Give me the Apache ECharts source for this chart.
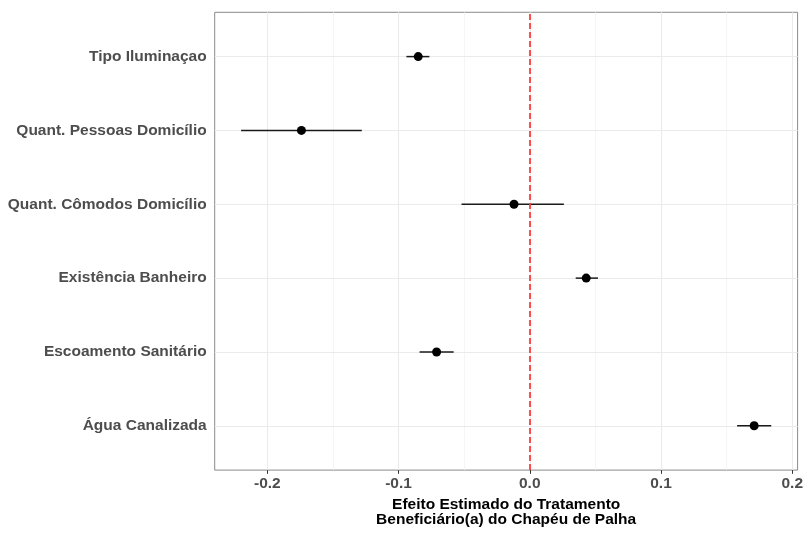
<!DOCTYPE html>
<html>
<head>
<meta charset="utf-8">
<script src="https://cdn.jsdelivr.net/npm/echarts@6/dist/echarts.min.js"></script>
<style>html,body{margin:0;padding:0;background:#fff}#c{width:806px;height:533px}</style>
</head>
<body>
<div id="c"></div>
<script>
// Categories, bottom to top
var categories = ['Água Canalizada', 'Escoamento Sanitário', 'Existência Banheiro', 'Quant. Cômodos Domicílio', 'Quant. Pessoas Domicílio', 'Tipo Iluminaçao'];
var estimates = [0.171, -0.071, 0.043, -0.012, -0.174, -0.085];
var lower = [0.158, -0.084, 0.035, -0.052, -0.220, -0.094];
var upper = [0.184, -0.058, 0.052, 0.026, -0.128, -0.0765];
var xTicks = [-0.2, -0.1, 0.0, 0.1, 0.2];
var xMinorTicks = [-0.15, -0.05, 0.05, 0.15];
var refValue = 0;

var yPos = categories.map(function (c, i) { return i + 1; });
var fontFam = '"Liberation Sans", Arial, sans-serif';

var errData = categories.map(function (c, i) { return [lower[i], upper[i], i + 1]; });
var ptData = categories.map(function (c, i) { return [estimates[i], i + 1]; });

var gridLines = [];
xTicks.forEach(function (v) { gridLines.push({ xAxis: v, lineStyle: { color: '#ebebeb', width: 1.1, type: 'solid' } }); });
xMinorTicks.forEach(function (v) { gridLines.push({ xAxis: v, lineStyle: { color: '#f2f2f2', width: 0.8, type: 'solid' } }); });
yPos.forEach(function (v) { gridLines.push({ yAxis: v, lineStyle: { color: '#ebebeb', width: 1.1, type: 'solid' } }); });

var chart = echarts.init(document.getElementById('c'), null, { renderer: 'canvas' });
chart.setOption({
  animation: false,
  backgroundColor: '#ffffff',
  grid: { left: 214.7, right: 6.7, top: 12.3, bottom: 55.7, show: true, borderColor: '#8a8a8a', borderWidth: 1, backgroundColor: 'transparent' },
  xAxis: {
    type: 'value', min: -0.2401, max: 0.2041,
    axisLine: { show: false },
    splitLine: { show: false },
    axisTick: { show: true, length: 3.7, lineStyle: { color: '#333' }, customValues: xTicks },
    axisLabel: { customValues: xTicks, margin: 6, color: '#4d4d4d', fontSize: 15.5, fontWeight: 'bold', fontFamily: fontFam,
      formatter: function (v) { return v.toFixed(1); } },
    name: 'Efeito Estimado do Tratamento\nBeneficiário(a) do Chapéu de Palha',
    nameLocation: 'middle', nameGap: 24,
    nameTextStyle: { color: '#000', fontSize: 15.5, fontWeight: 'bold', fontFamily: fontFam, lineHeight: 15, verticalAlign: 'top' }
  },
  yAxis: {
    type: 'value', min: 0.4, max: 6.6,
    axisLine: { show: false },
    splitLine: { show: false },
    axisTick: { show: true, length: 3.7, lineStyle: { color: '#333' }, customValues: yPos },
    axisLabel: { customValues: yPos, margin: 8, color: '#4d4d4d', fontSize: 15.5, fontWeight: 'bold', fontFamily: fontFam,
      formatter: function (v) { var i = Math.round(v) - 1; return categories[i] || ''; } }
  },
  series: [
    {
      type: 'line', data: [], silent: true, z: 1,
      markLine: { z: 1, silent: true, symbol: 'none', label: { show: false }, animation: false, data: gridLines }
    },
    {
      type: 'custom', z: 4, data: errData, silent: true,
      renderItem: function (params, api) {
        var a = api.coord([api.value(0), api.value(2)]);
        var b = api.coord([api.value(1), api.value(2)]);
        return { type: 'line', shape: { x1: a[0], y1: a[1], x2: b[0], y2: b[1] }, style: { stroke: '#1a1a1a', lineWidth: 1.5, lineDash: null } };
      }
    },
    {
      type: 'scatter', z: 5, data: ptData, symbol: 'circle', symbolSize: 9,
      itemStyle: { color: '#000', opacity: 1 }
    },
    {
      type: 'line', data: [], silent: true, z: 6,
      markLine: { z: 6, silent: true, symbol: 'none', label: { show: false }, animation: false,
        data: [{ xAxis: refValue, lineStyle: { color: '#ff3b3b', width: 2, type: [6, 3], opacity: 0.9 } }] }
    }
  ]
});
</script>
</body>
</html>
